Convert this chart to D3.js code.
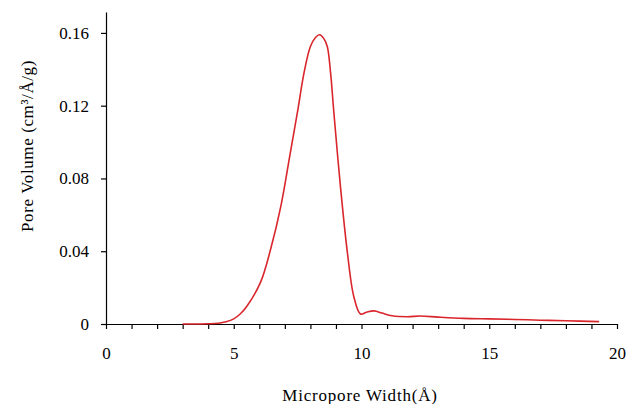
<!DOCTYPE html>
<html>
<head>
  <script src="https://d3js.org/d3.v7.min.js"></script>
  <style>
    body { margin: 0; background: #fff; }
    .chart text {
      font-family: "Liberation Serif", "Times New Roman", serif;
      fill: #000;
    }
    .axis path, .axis line { stroke: #000; stroke-width: 1.2; }
  </style>
</head>
<body>
  <svg class="chart"></svg>
  <script>
    // pore width (Å) and pore volume (cm3/Å/g)
    var poreWidth = [3, 3.5, 4, 4.4, 4.7, 5, 5.25, 5.5, 6.05, 6.45, 6.84, 7.2, 7.5, 7.75, 8.0,
      8.2, 8.36, 8.52, 8.66, 8.79, 8.92, 9.18, 9.45, 9.7, 9.96, 10.2, 10.5, 10.8, 11.2, 11.8,
      12.3, 13, 14, 15, 16, 17, 18, 19.3];
    var poreVolume = [0, 0, 0.0001, 0.0004, 0.0012, 0.0028, 0.0055, 0.0095, 0.023, 0.0415,
      0.0645, 0.093, 0.117, 0.138, 0.1525, 0.1575, 0.159, 0.157, 0.1525, 0.138, 0.116, 0.075,
      0.039, 0.015, 0.0055, 0.0065, 0.0072, 0.006, 0.0045, 0.004, 0.0044, 0.0038, 0.0031,
      0.0028, 0.0025, 0.0021, 0.0018, 0.0013];
    var xTicks = d3.range(0, 21);
    var yTicks = [0, 0.04, 0.08, 0.12, 0.16];

    var width = 628, height = 404;
    var plotLeft = 106, plotRight = 617, plotTop = 12, plotBottom = 324;

    var svg = d3.select('.chart')
      .attr('width', width)
      .attr('height', height);

    var x = d3.scaleLinear().domain([0, 20]).range([plotLeft, plotRight]);
    var y = d3.scaleLinear().domain([0, 0.1715]).range([plotBottom, plotTop]);

    svg.append('g')
      .attr('class', 'axis')
      .attr('transform', 'translate(0,' + plotBottom + ')')
      .call(d3.axisBottom(x)
        .tickValues(xTicks)
        .tickSize(5)
        .tickSizeOuter(0)
        .tickPadding(18)
        .tickFormat(function (d) { return d % 5 === 0 ? d : ''; }))
      .selectAll('text')
      .style('font-size', '17px');

    svg.append('g')
      .attr('class', 'axis')
      .attr('transform', 'translate(' + plotLeft + ',0)')
      .call(d3.axisLeft(y)
        .tickValues(yTicks)
        .tickSize(5)
        .tickSizeOuter(0)
        .tickPadding(12)
        .tickFormat(function (d) { return d === 0 ? '0' : d3.format('.2f')(d); }))
      .selectAll('text')
      .style('font-size', '17px');

    var line = d3.line()
      .x(function (d, i) { return x(poreWidth[i]); })
      .y(function (d) { return y(d); })
      .curve(d3.curveCatmullRom.alpha(0.5));

    svg.append('path')
      .datum(poreVolume)
      .attr('fill', 'none')
      .attr('stroke', '#d9262c')
      .attr('stroke-width', 1.6)
      .attr('d', line);

    svg.append('text')
      .attr('x', 360)
      .attr('y', 401)
      .attr('text-anchor', 'middle')
      .style('font-size', '17px')
      .style('letter-spacing', '0.8px')
      .text('Micropore Width(Å)');

    svg.append('text')
      .attr('transform', 'translate(33,146) rotate(-90)')
      .attr('text-anchor', 'middle')
      .style('font-size', '17px')
      .style('letter-spacing', '0.6px')
      .text('Pore Volume (cm³/Å/g)');
  </script>
</body>
</html>
